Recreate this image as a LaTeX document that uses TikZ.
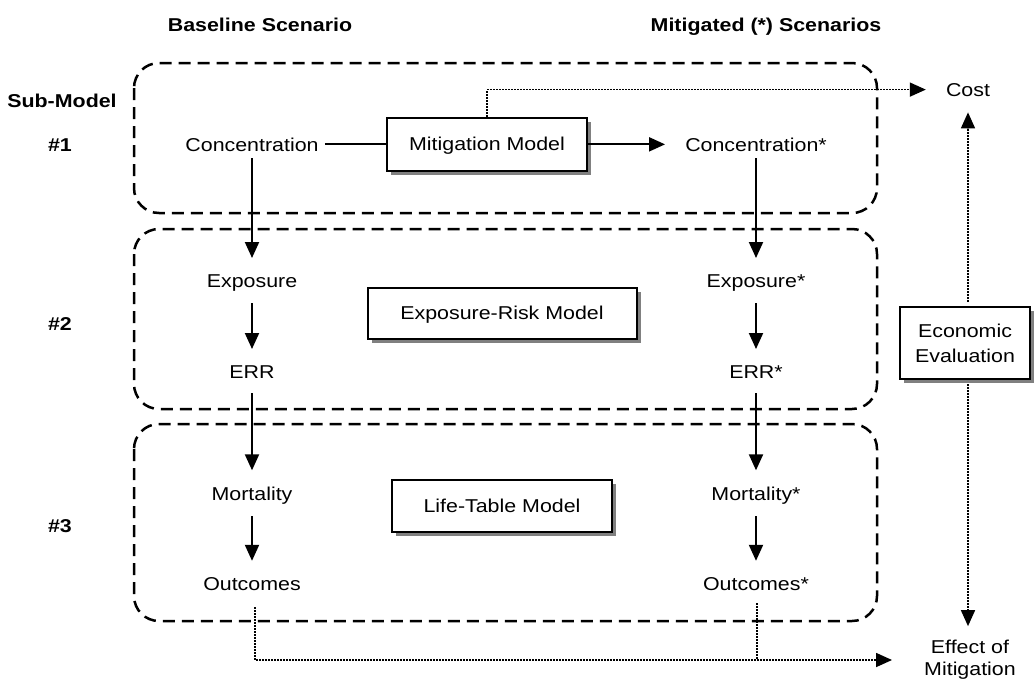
\documentclass[tikz,border=0pt]{standalone}
\usepackage{fontspec}
\setmainfont{Liberation Sans}[FakeStretch=1.15]
\usetikzlibrary{arrows.meta,shadows}

\begin{document}
\begin{tikzpicture}[x=1pt,y=-1pt,
  txt/.style={font=\fontsize{18.6}{22}\selectfont, inner sep=0pt, anchor=base},
  hdr/.style={font=\bfseries\fontsize{18.6}{22}\selectfont, inner sep=0pt, anchor=base},
  model/.style={draw, line width=2pt, fill=white, inner sep=0pt,
    font=\fontsize{18.6}{25}\selectfont, align=center,
    drop shadow={shadow xshift=4pt, shadow yshift=-4pt, fill=black!50, opacity=1}},
  group/.style={line width=2.5pt, dash pattern=on 12pt off 7pt, rounded corners=25pt},
  flow/.style={line width=2pt, -{Triangle[length=16pt,width=14pt]}},
  plainline/.style={line width=2pt},
  dots/.style={line width=1.6pt, dash pattern=on 1.6pt off 1.4pt},
  dotarrow/.style={dots, -{Triangle[length=16pt,width=14pt]}},
  down/.style={flow, shorten <=12pt, shorten >=16pt}
]
\useasboundingbox (0,0) rectangle (1036,683);

% sub-model groups
\draw[group] (134,63) rectangle (877,213);
\draw[group] (134,229) rectangle (877,409);
\draw[group] (134,424) rectangle (877,621);

% column and row headings
\node[hdr] (hbase) at (260,31) {Baseline Scenario};
\node[hdr] (hmiti) at (766,31) {Mitigated (*) Scenarios};
\node[hdr] (hsub) at (62,107) {Sub-Model};
\node[hdr] (r1) at (60,151) {\#1};
\node[hdr] (r2) at (60,330) {\#2};
\node[hdr] (r3) at (60,532) {\#3};

% baseline column
\node[txt] (conc) at (252,151) {Concentration};
\node[txt] (expo) at (252,287) {Exposure};
\node[txt] (err)  at (252,378) {ERR};
\node[txt] (mort) at (252,500) {Mortality};
\node[txt] (outc) at (252,590) {Outcomes};

% mitigated column
\node[txt] (conce) at (756,151) {Concentration*};
\node[txt] (expoe) at (756,287) {Exposure*};
\node[txt] (erre)  at (756,378) {ERR*};
\node[txt] (morte) at (756,500) {Mortality*};
\node[txt] (oute)  at (756,590) {Outcomes*};

% models
\node[model, text depth=0pt, minimum width=200pt, minimum height=53pt] (mitig) at (487,144) {Mitigation Model};
\node[model, text depth=0pt, minimum width=269pt, minimum height=51pt] (exprisk) at (502,313) {Exposure-Risk Model};
\node[model, minimum width=220pt, minimum height=52pt] (life) at (502,506) {Life-Table Model};
\node[model, minimum width=130pt, minimum height=72pt] (econ) at (965,343) {Economic\\Evaluation};

% outputs
\node[txt] (cost) at (968,96) {Cost};
\node[txt, anchor=center, align=center] (effect) at (970,660) {Effect of\\Mitigation};

% sub-model #1 flow
\draw[plainline, shorten <=6pt] (conc) -- (conc -| mitig.west);
\draw[flow, shorten >=20pt] (mitig.east |- conce) -- (conce);
\draw[dotarrow, shorten >=20pt] (mitig.north) |- (cost.west);

% vertical flows
\draw[down, shorten <=7pt] (conc) -- (expo);
\draw[down] (expo) -- (err);
\draw[down, shorten <=15pt] (err) -- (mort);
\draw[down] (mort) -- (outc);

\draw[down, shorten <=7pt] (conce) -- (expoe);
\draw[down] (expoe) -- (erre);
\draw[down, shorten <=15pt] (erre) -- (morte);
\draw[down] (morte) -- (oute);

% economic evaluation
\coordinate (ecol) at (econ.north -| cost.south);
\coordinate (ecolb) at (econ.south -| cost.south);
\draw[dotarrow, shorten <=4pt, shorten >=16pt] (ecol) -- (cost.south);
\draw[dotarrow, shorten <=4pt, shorten >=14pt] (ecolb) -- (ecolb |- effect.north);

% outcomes to effect of mitigation
\coordinate (ob) at ([xshift=3pt]outc.south);
\coordinate (oeb) at ([xshift=1pt]oute.south);
\draw[dotarrow, shorten <=17pt, shorten >=32pt] (ob) |- (effect.west);
\draw[dots, shorten <=13pt] (oeb) -- (oeb |- effect.west);
\end{tikzpicture}
\end{document}
